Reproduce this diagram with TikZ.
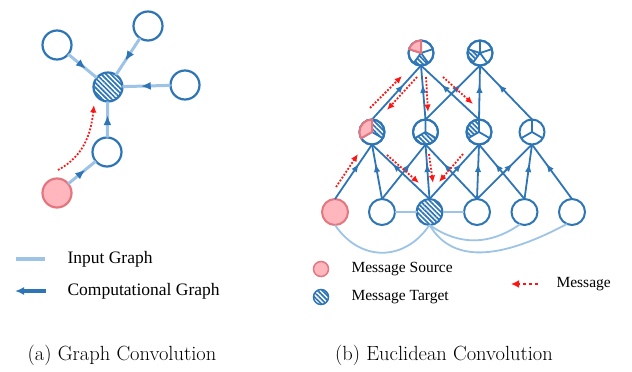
\documentclass[tikz,border=0pt]{standalone}
\usepackage{fontspec}
\newfontfamily\legendfont{Liberation Serif}
\usepackage{xcolor}
\definecolor{compblue}{RGB}{46, 117, 182}
\definecolor{inblue}{RGB}{157, 195, 230}
\definecolor{srcfill}{RGB}{255, 182, 188}
\definecolor{srcline}{RGB}{228, 118, 128}
\definecolor{msgred}{RGB}{255, 20, 20}
\usepackage{tikz}
\usetikzlibrary{
    arrows.meta,
    decorations.markings,
    patterns.meta
}
\tikzstyle{vtx} = [
    circle, draw=compblue,
    line width=2.2pt,
    fill=white,
    minimum size=29pt,
    inner sep=0pt,
    outer sep=0pt
]
\tikzstyle{srcvtx} = [
    vtx,
    draw=srcline,
    fill=srcfill
]
\tikzstyle{hatch} = [
    pattern={Lines[angle=-45, distance=3.4pt, line width=1.7pt]},
    pattern color=compblue
]
\tikzstyle{tgtvtx} = [
    vtx,
    hatch
]
\tikzstyle{inedge} = [
    inblue,
    line width=3pt
]
\tikzstyle{midarrow} = [
    postaction={decorate},
    decoration={markings,
        mark=at position 0.62 with {\arrow[compblue]{Latex[length=10pt, width=8pt]}}}
]
\tikzstyle{comp} = [
    compblue,
    line width=1.8pt,
    postaction={decorate},
    decoration={markings,
        mark=at position 0.65 with {\arrow{Latex[length=8.5pt, width=6.5pt]}}}
]
\tikzstyle{msg} = [
    msgred,
    line width=1.8pt,
    dash pattern=on 1.8pt off 1.7pt,
    -{Latex[length=7.5pt, width=6.5pt]}
]
% filled sector of a pie node
\newcommand{\pieslice}[4]{%
    \fill[#4] (#1.center) -- ++(#2:12.5pt)
        arc[start angle=#2, end angle=#3, radius=12.5pt] -- cycle;}

\begin{document}
\begin{tikzpicture}[
    x=1pt, y=1pt,
    rvtx/.style={vtx, minimum size=25pt, line width=2pt},
    spoke/.style={compblue, line width=1.8pt},
    legend/.style={font=\legendfont\fontsize{17.5}{20}\selectfont, anchor=west},
    legendsm/.style={font=\legendfont\fontsize{15.5}{18}\selectfont, anchor=west},
    caption/.style={font=\fontsize{20.5}{24}\selectfont}
]
\useasboundingbox (0,0) rectangle (632,372);

% (a) graph convolution
\node (hub) [tgtvtx] at (108,285) {};
\node (nbA) [vtx] at (57,327) {};
\node (nbB) [vtx] at (148,346) {};
\node (nbC) [vtx] at (185,287) {};
\node (nbD) [vtx] at (107,220) {};
\node (src) [srcvtx] at (57,179) {};

\draw [inedge, midarrow] (nbA) -- (hub);
\draw [inedge, midarrow] (nbB) -- (hub);
\draw [inedge, midarrow] (nbC) -- (hub);
\draw [inedge, midarrow] (nbD) -- (hub);
\draw [inedge, midarrow] (src) -- (nbD);

\coordinate (lmsgA) at (58,202);
\coordinate (lmsgB) at (94,267);
\draw [msg] (lmsgA) to[out=28, in=-96] (lmsgB);

% (b) euclidean convolution
\node (b1) [srcvtx, minimum size=26pt, line width=2pt] at (335,160) {};
\node (b2) [rvtx, minimum size=26pt] at (382,160) {};
\node (b3) [tgtvtx, minimum size=26pt, line width=2pt] at (429.5,160) {};
\node (b4) [rvtx, minimum size=26pt] at (477,160) {};
\node (b5) [rvtx, minimum size=26pt] at (524.5,160) {};
\node (b6) [rvtx, minimum size=26pt] at (572,160) {};

\node (m1) [rvtx] at (372,240) {};
\node (m2) [rvtx] at (425.5,240) {};
\node (m3) [rvtx] at (479,240) {};
\node (m4) [rvtx] at (532,240) {};

\node (t1) [rvtx] at (421,319) {};
\node (t2) [rvtx] at (480,319) {};

% input graph
\draw [inblue, line width=2pt] (b2) -- (b3);
\draw [inblue, line width=2pt] (b3) -- (b4);
\draw [inblue, line width=1.8pt] (b1.south) .. controls +(25,-37) and +(-25,-37) .. (b3.south);
\draw [inblue, line width=1.8pt] (b3.south) .. controls +(30,-21) and +(-30,-21) .. (b5.-110);
\draw [inblue, line width=1.8pt] (b3.south) .. controls +(25,-42) and +(-60,-32) .. (b6.-113);

% computational graph
\draw [comp] (b1.north) -- (m1.south);
\draw [comp] (b2.north) -- (m1.south);
\draw [comp] (b3.north) -- (m1.south);
\draw [comp] (b2.north) -- (m2.south);
\draw [comp] (b3.north) -- (m2.south);
\draw [comp] (b4.north) -- (m2.south);
\draw [comp] (b3.north) -- (m3.south);
\draw [comp] (b4.north) -- (m3.south);
\draw [comp] (b5.north) -- (m3.south);
\draw [comp] (b4.north) -- (m4.south);
\draw [comp] (b5.north) -- (m4.south);
\draw [comp] (b6.north) -- (m4.south);
\draw [comp] (m1.north) -- (t1.south);
\draw [comp] (m2.north) -- (t1.south);
\draw [comp] (m3.north) -- (t1.south);
\draw [comp] (m2.north) -- (t2.south);
\draw [comp] (m3.north) -- (t2.south);
\draw [comp] (m4.north) -- (t2.south);

% pie sectors
\pieslice{m1}{-30}{90}{hatch}
\pieslice{m2}{210}{330}{hatch}
\pieslice{m3}{90}{210}{hatch}
\pieslice{t1}{234}{306}{hatch}
\pieslice{t2}{162}{234}{hatch}

\draw [spoke] (m1.center) -- (m1.90) (m1.center) -- (m1.210) (m1.center) -- (m1.330);
\draw [spoke] (m2.center) -- (m2.90) (m2.center) -- (m2.210) (m2.center) -- (m2.330);
\draw [spoke] (m3.center) -- (m3.90) (m3.center) -- (m3.210) (m3.center) -- (m3.330);
\draw [spoke] (m4.center) -- (m4.90) (m4.center) -- (m4.210) (m4.center) -- (m4.330);
\draw [spoke] (t1.center) -- (t1.90) (t1.center) -- (t1.162) (t1.center) -- (t1.234)
              (t1.center) -- (t1.306) (t1.center) -- (t1.18);
\draw [spoke] (t2.center) -- (t2.90) (t2.center) -- (t2.162) (t2.center) -- (t2.234)
              (t2.center) -- (t2.306) (t2.center) -- (t2.18);

\draw [compblue, line width=2pt] (m1.center) circle[radius=12.5pt];
\draw [compblue, line width=2pt] (m2.center) circle[radius=12.5pt];
\draw [compblue, line width=2pt] (m3.center) circle[radius=12.5pt];
\draw [compblue, line width=2pt] (t1.center) circle[radius=12.5pt];
\draw [compblue, line width=2pt] (t2.center) circle[radius=12.5pt];

\pieslice{m1}{90}{210}{fill=srcfill, draw=srcline, line width=2pt}
\pieslice{t1}{90}{162}{fill=srcfill, draw=srcline, line width=2pt}

% messages
\coordinate (msgA0) at (336,185);   \coordinate (msgA1) at (358,218);
\coordinate (msgB0) at (370,264);   \coordinate (msgB1) at (402,296);
\coordinate (msgC0) at (417,295);   \coordinate (msgC1) at (387,262);
\coordinate (msgD0) at (426,295);   \coordinate (msgD1) at (428,260);
\coordinate (msgE0) at (443,295);   \coordinate (msgE1) at (473,268);
\coordinate (msgF0) at (387,217);   \coordinate (msgF1) at (419,189);
\coordinate (msgG0) at (429,218);   \coordinate (msgG1) at (433,189);
\coordinate (msgH0) at (463,218);   \coordinate (msgH1) at (439,190);
\draw [msg] (msgA0) -- (msgA1);
\draw [msg] (msgB0) -- (msgB1);
\draw [msg] (msgC0) -- (msgC1);
\draw [msg] (msgD0) -- (msgD1);
\draw [msg] (msgE0) -- (msgE1);
\draw [msg] (msgF0) -- (msgF1);
\draw [msg] (msgG0) -- (msgG1);
\draw [msg] (msgH0) -- (msgH1);

% legends
\coordinate (keyinA) at (16,113);
\coordinate (keyinB) at (45,113);
\draw [inedge, line width=3.5pt] (keyinA) -- (keyinB);
\node (txtin) [legend] at (64,113) {Input Graph};
\coordinate (keycompA) at (46,81);
\coordinate (keycompB) at (15,81);
\draw [compblue, line width=3.5pt, -{Latex[length=9pt, width=8pt]}] (keycompA) -- (keycompB);
\node (txtcomp) [legend] at (64,81) {Computational Graph};

\node (keysrc) [srcvtx, minimum size=15pt, line width=1.5pt] at (321,103) {};
\node (txtsrc) [legendsm] at (348,103) {Message Source};
\node (keytgt) [tgtvtx, minimum size=15pt, line width=1.5pt] at (321,75) {};
\node (txttgt) [legendsm] at (348,75) {Message Target};
\coordinate (keymsgA) at (538,88);
\coordinate (keymsgB) at (511,88);
\draw [msg, line width=2.8pt, dash pattern=on 3pt off 3pt, -{Latex[length=8pt, width=8pt]}] (keymsgA) -- (keymsgB);
\node (txtmsg) [legendsm] at (553,88) {Message};

% captions
\node (capa) [caption] at (122,17) {(a) Graph Convolution};
\node (capb) [caption] at (444,17) {(b) Euclidean Convolution};

\end{tikzpicture}
\end{document}
